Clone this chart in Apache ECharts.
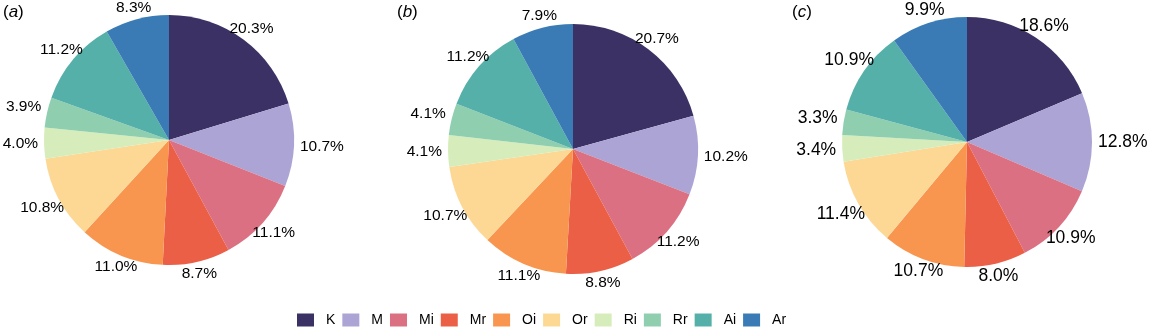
<!DOCTYPE html>
<html>
<head>
<meta charset="utf-8">
<script src="https://cdn.jsdelivr.net/npm/echarts@6/dist/echarts.min.js"></script>
<style>
  html, body { margin: 0; padding: 0; background: #fff; }
  #main { width: 1150px; height: 330px; }
</style>
</head>
<body>
<div id="main"></div>
<script>
// categories (legend order, clockwise from 12 o'clock)
const categories = ['K', 'M', 'Mi', 'Mr', 'Oi', 'Or', 'Ri', 'Rr', 'Ai', 'Ar']
// percentage of each panel
const valuesA = [20.3, 10.7, 11.1, 8.7, 11.0, 10.8, 4.0, 3.9, 11.2, 8.3]
const valuesB = [20.7, 10.2, 11.2, 8.8, 11.1, 10.7, 4.1, 4.1, 11.2, 7.9]
const valuesC = [18.6, 12.8, 10.9, 8.0, 10.7, 11.4, 3.4, 3.3, 10.9, 9.9]
const panelNames = ['a', 'b', 'c']

const colorList = ['#3b3164', '#aba4d4', '#dc7083', '#eb5f47', '#f89650',
  '#fdd894', '#d6edbb', '#8fcfb0', '#55b0a9', '#3a7bb5']

// layout of the three pies
const centers = [[169, 140], [573, 149], [967, 142]]
const pieRadius = 125
const labelGap = 6          // distance from rim to nearest edge of label box
const labelSizes = [15.5, 15.5, 17.5]
const titleLeft = [3, 397, 792]

function pieSeries(values, idx) {
  return {
    name: panelNames[idx],
    type: 'pie',
    center: centers[idx],
    radius: [0, pieRadius],
    startAngle: 90,
    clockwise: true,
    silent: true,
    itemStyle: { borderWidth: 0 },
    label: {
      show: true,
      position: 'inside',
      color: '#000',
      fontFamily: 'Liberation Sans, Arial, sans-serif',
      fontSize: labelSizes[idx],
      formatter: (p) => p.value.toFixed(1) + '%'
    },
    labelLine: { show: false },
    // push the label outward along the slice's mid angle until its box sits just outside the rim
    labelLayout: function (params) {
      const r = params.labelRect
      const c = centers[params.seriesIndex]
      const mx = r.x + r.width / 2 - c[0]
      const my = r.y + r.height / 2 - c[1]
      const d = Math.sqrt(mx * mx + my * my) || 1
      const ux = mx / d, uy = my / d
      const hw = r.width / 2, hh = r.height / 2 - 2
      const tx = Math.abs(ux) > 1e-6 ? hw / Math.abs(ux) : Infinity
      const ty = Math.abs(uy) > 1e-6 ? hh / Math.abs(uy) : Infinity
      const t = pieRadius + labelGap + Math.min(tx, ty)
      return { x: c[0] + ux * t, y: c[1] + uy * t, align: 'center', verticalAlign: 'middle' }
    },
    data: categories.map((name, i) => ({ name: name, value: values[i] }))
  }
}

const option = {
  animation: false,
  backgroundColor: '#fff',
  color: colorList,
  title: panelNames.map((n, i) => ({
    text: '{p|(}{l|' + n + '}{p|)}',
    left: titleLeft[i],
    top: 4,
    padding: 0,
    textStyle: {
      fontWeight: 'normal',
      rich: {
        p: { fontSize: 17, color: '#000', fontWeight: 'normal', fontFamily: 'Liberation Sans, Arial, sans-serif' },
        l: { fontSize: 17, color: '#000', fontWeight: 'normal', fontStyle: 'italic', fontFamily: 'Liberation Sans, Arial, sans-serif' }
      }
    }
  })),
  legend: {
    data: categories,
    left: 297,
    top: 313,
    padding: 0,
    itemWidth: 17,
    itemHeight: 13,
    itemGap: 7,
    icon: 'rect',
    textStyle: {
      fontSize: 14,
      color: '#000',
      fontFamily: 'Liberation Sans, Arial, sans-serif',
      padding: [0, 0, 0, 7]
    }
  },
  series: [pieSeries(valuesA, 0), pieSeries(valuesB, 1), pieSeries(valuesC, 2)]
}

var chartDom = document.getElementById('main')
const chart = echarts.init(chartDom, null, { renderer: 'canvas' })
chart && chart.setOption(option)
</script>
</body>
</html>
